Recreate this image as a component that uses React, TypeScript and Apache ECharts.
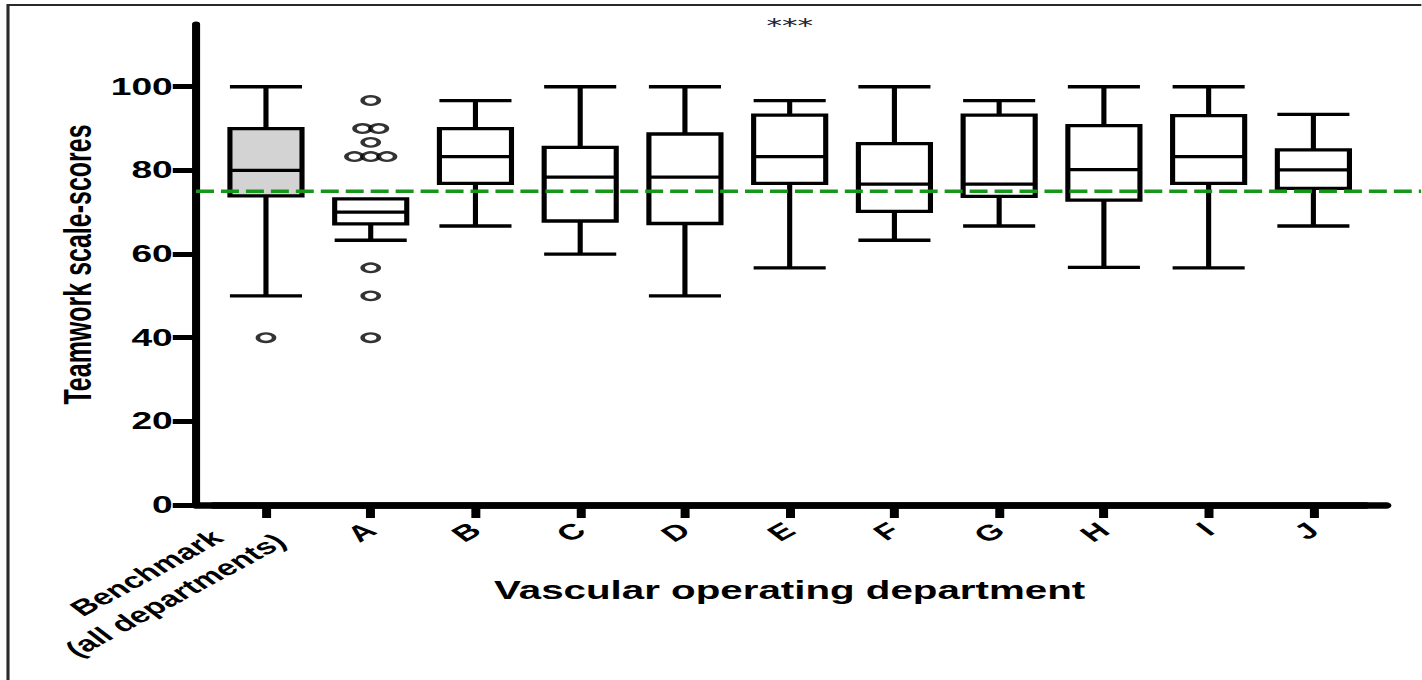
import React, { useEffect, useRef } from 'react';
import * as echarts from 'echarts';

// ---- data ----
const categories = ['Benchmark\n(all departments)', 'A', 'B', 'C', 'D', 'E', 'F', 'G', 'H', 'I', 'J'];
const whiskerLow = [50, 63.3, 66.7, 60, 50, 56.7, 63.3, 66.7, 56.8, 56.7, 66.7];
const quartile1 = [73.9, 67.2, 76.9, 67.9, 67.3, 76.9, 70.2, 73.8, 72.9, 76.9, 75.7];
const medians = [80, 70, 83.3, 78.4, 78.4, 83.3, 76.7, 76.7, 80.2, 83.3, 80.1];
const quartile3 = [90, 73.2, 90, 85.5, 88.7, 93.2, 86.4, 93.2, 90.7, 93.1, 84.9];
const whiskerHigh = [100, 73.2, 96.7, 100, 100, 96.7, 100, 96.7, 100, 100, 93.4];
const outliersBenchmark = [40];
const outliersA = [96.7, 90, 90, 86.7, 83.3, 83.3, 83.3, 56.7, 50, 40];
const benchmarkLevel = 75;
const yTicks = [0, 20, 40, 60, 80, 100];
const yMax = 115;
const significanceCategory = 'E';
const significanceText = '***';

// ---- layout (the reference picture is horizontally stretched) ----
const W = 1422;
const H = 680;
const STRETCH = 1.55;
const innerW = W / STRETCH;
const px = (x: number) => x / STRETCH;
const TOP = 24;
const BOTTOM = H - 505;
const FONT = "'Liberation Sans', Arial, sans-serif";

function buildOutliers() {
  const groups: { cat: number; values: number[] }[] = [
    { cat: 0, values: outliersBenchmark },
    { cat: 1, values: outliersA },
  ];
  const spacing = 10.5;
  const out: any[] = [];
  groups.forEach((g) => {
    const counts: Record<string, number> = {};
    g.values.forEach((v) => (counts[v] = (counts[v] || 0) + 1));
    const seen: Record<string, number> = {};
    g.values.forEach((v) => {
      const n = counts[v];
      const k = seen[v] || 0;
      seen[v] = k + 1;
      out.push({ value: [g.cat, v], symbolOffset: [(k - (n - 1) / 2) * spacing, 0] });
    });
  });
  return out;
}

export default function App() {
  const ref = useRef<HTMLDivElement>(null);
  useEffect(() => {
    if (!ref.current) return;
    const chart = echarts.init(ref.current, undefined, { renderer: 'svg' });
    const boxData = categories.map((c, i) => ({
      value: [whiskerLow[i], quartile1[i], medians[i], quartile3[i], whiskerHigh[i]],
      itemStyle: i === 0 ? { color: '#d3d3d3' } : undefined,
    }));
    const gridBase = { top: TOP, bottom: BOTTOM, containLabel: false, outerBoundsMode: 'none' };
    const option: any = {
      animation: false,
      backgroundColor: '#ffffff',
      graphic: [
        {
          type: 'rect',
          silent: true,
          shape: { x: px(8), y: 5, width: innerW, height: H },
          style: { fill: 'none', stroke: '#2a2a2a', lineWidth: 2 },
        },
      ],
      grid: [
        { ...gridBase, left: px(213.6), right: innerW - px(1366.4) },
        { ...gridBase, left: px(196), right: innerW - px(1387) },
        { ...gridBase, left: px(196), right: 0 },
      ],
      xAxis: [
        {
          type: 'category',
          gridIndex: 0,
          data: categories,
          boundaryGap: true,
          axisLine: { show: true, lineStyle: { color: '#000', width: 6.5 } },
          axisTick: { show: true, alignWithLabel: true, length: 13, lineStyle: { color: '#000', width: 5.8 } },
          axisLabel: {
            interval: 0,
            rotate: 40,
            margin: 22,
            color: '#000',
            fontSize: 22,
            fontWeight: 'bold',
            fontFamily: FONT,
            hideOverlap: false,
            formatter: (v: string) =>
              v.indexOf('\n') >= 0 ? v.split('\n').map((s) => `{c|${s}}`).join('\n') : v,
            rich: {
              c: { fontSize: 22, fontWeight: 'bold', fontFamily: FONT, color: '#000', align: 'center', lineHeight: 29 },
            },
          },
          splitLine: { show: false },
          name: 'Vascular operating department',
          nameLocation: 'middle',
          nameGap: 72,
          nameMoveOverlap: false,
          nameTextStyle: { fontSize: 26, fontWeight: 'bold', fontFamily: FONT, color: '#000' },
        },
        {
          type: 'value',
          gridIndex: 1,
          min: 0,
          max: 1,
          axisLine: { show: true, onZero: false, lineStyle: { color: '#000', width: 6.5 } },
          axisTick: { show: false },
          axisLabel: { show: false },
          splitLine: { show: false },
        },
        { type: 'value', gridIndex: 2, min: 0, max: 1, show: false },
      ],
      yAxis: [
        {
          type: 'value',
          gridIndex: 0,
          min: 0,
          max: yMax,
          interval: 20,
          offset: px(213.6 - 196),
          axisLine: { show: true, lineStyle: { color: '#000', width: 5.2 } },
          axisTick: { show: true, length: 15, customValues: yTicks, lineStyle: { color: '#000', width: 5 } },
          axisLabel: {
            customValues: yTicks,
            margin: 15,
            color: '#000',
            fontSize: 24,
            fontWeight: 'bold',
            fontFamily: FONT,
          },
          splitLine: { show: false },
          name: 'Teamwork scale-scores',
          nameLocation: 'middle',
          nameGap: 64,
          nameMoveOverlap: false,
          nameTextStyle: {
            fontSize: 25,
            fontWeight: 'bold',
            fontFamily: FONT,
            color: '#000',
          },
        },
        { type: 'value', gridIndex: 1, min: 0, max: yMax, show: false },
        { type: 'value', gridIndex: 2, min: 0, max: yMax, show: false },
      ],
      series: [
        {
          type: 'boxplot',
          xAxisIndex: 0,
          yAxisIndex: 0,
          data: boxData,
          boxWidth: [46.5, 46.5],
          itemStyle: { color: '#ffffff', borderColor: '#000', borderWidth: 3.3 },
          z: 2,
        },
        {
          type: 'scatter',
          xAxisIndex: 0,
          yAxisIndex: 0,
          data: buildOutliers(),
          symbol: 'circle',
          symbolSize: [10.5, 8.5],
          itemStyle: { color: '#ffffff', borderColor: '#000', borderWidth: 2.6 },
          z: 3,
          markPoint: {
            symbol: 'circle',
            symbolSize: 0,
            itemStyle: { color: 'rgba(0,0,0,0)' },
            label: {
              show: true,
              position: 'inside',
              formatter: significanceText,
              fontSize: 20,
              fontFamily: "'DejaVu Sans', sans-serif",
              color: '#23232f',
              offset: [0, 1],
            },
            data: [{ coord: [significanceCategory, yMax] }],
          },
        },
        {
          type: 'line',
          xAxisIndex: 2,
          yAxisIndex: 2,
          data: [
            [0, benchmarkLevel],
            [1, benchmarkLevel],
          ],
          symbol: 'none',
          lineStyle: { color: '#16971b', width: 3.5, type: [11.6, 4.5] },
          z: 5,
        },
      ],
    };
    chart.setOption(option);
    return () => chart.dispose();
  }, []);

  return (
    <div
      style={{ position: 'absolute', left: 0, top: 0, width: W, height: H, overflow: 'hidden', background: '#fff' }}
    >
      <div
        ref={ref}
        style={{ width: innerW, height: H, transform: `scaleX(${STRETCH})`, transformOrigin: '0 0' }}
      />
    </div>
  );
}
